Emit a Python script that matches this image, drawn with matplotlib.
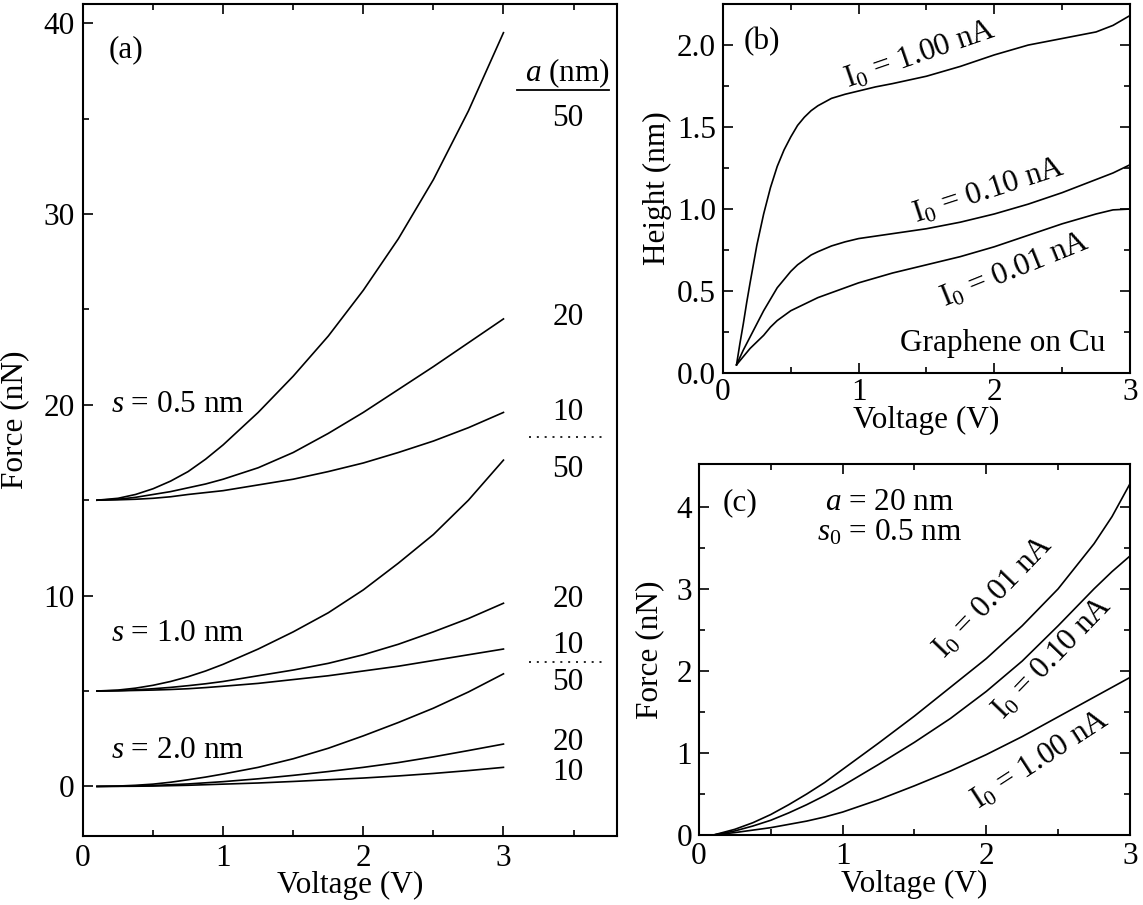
import numpy as np
import matplotlib
matplotlib.use("Agg")
import matplotlib.pyplot as plt

plt.rcParams['font.family'] = ['Liberation Serif', 'DejaVu Serif']
plt.rcParams['mathtext.fontset'] = 'custom'
plt.rcParams['mathtext.rm'] = 'Liberation Serif'
plt.rcParams['mathtext.it'] = 'Liberation Serif:italic'
plt.rcParams['font.size'] = 22.5

# ---- panel (a): force vs voltage for three gaps s and three radii a ----
volt_a = [0.1, 0.25, 0.375, 0.5, 0.625, 0.75, 0.875, 1.0, 1.25, 1.5, 1.75,
          2.0, 2.25, 2.5, 2.75, 3.0]
force_s05 = {
    50: [15.0, 15.1, 15.3, 15.6, 16.0, 16.5, 17.15, 17.9, 19.6, 21.5, 23.6,
         26.0, 28.7, 31.8, 35.4, 39.5],
    20: [15.0, 15.05, 15.15, 15.3, 15.45, 15.65, 15.85, 16.1, 16.7, 17.5, 18.5,
         19.6, 20.8, 22.0, 23.25, 24.5],
    10: [15.0, 15.02, 15.05, 15.1, 15.18, 15.3, 15.4, 15.5, 15.8, 16.1, 16.5,
         16.95, 17.5, 18.1, 18.8, 19.6],
}
force_s10 = {
    50: [5.0, 5.05, 5.15, 5.3, 5.5, 5.75, 6.05, 6.4, 7.2, 8.1, 9.1,
         10.3, 11.7, 13.2, 15.0, 17.1],
    20: [5.0, 5.02, 5.06, 5.12, 5.19, 5.28, 5.38, 5.5, 5.8, 6.1, 6.45,
         6.9, 7.45, 8.1, 8.8, 9.6],
    10: [5.0, 5.01, 5.03, 5.05, 5.08, 5.12, 5.18, 5.25, 5.4, 5.6, 5.8,
         6.05, 6.3, 6.6, 6.9, 7.2],
}
force_s20 = {
    50: [0.0, 0.02, 0.06, 0.12, 0.22, 0.35, 0.49, 0.65, 1.0, 1.45, 2.0,
         2.65, 3.35, 4.1, 4.95, 5.9],
    20: [0.0, 0.01, 0.03, 0.05, 0.09, 0.13, 0.19, 0.25, 0.4, 0.58, 0.78,
         1.0, 1.25, 1.55, 1.88, 2.22],
    10: [0.0, 0.005, 0.01, 0.02, 0.04, 0.06, 0.09, 0.12, 0.18, 0.26, 0.35,
         0.44, 0.55, 0.68, 0.83, 1.0],
}
gap_labels = [r'$s$ = 0.5 nm', r'$s$ = 1.0 nm', r'$s$ = 2.0 nm']
gap_label_y = [20.0, 8.0, 1.9]
radius_labels = ['50', '20', '10', '50', '20', '10', '50', '20', '10']
radius_label_y = [35.0, 24.6, 19.6, 16.6, 9.8, 7.4, 5.45, 2.3, 0.73]
separator_y = [18.3, 6.5]

# ---- panel (b): height vs voltage ----
volt_b = [0.1, 0.125, 0.15, 0.175, 0.2, 0.25, 0.3, 0.35, 0.4, 0.45, 0.5, 0.55,
          0.6, 0.65, 0.7, 0.8, 0.9, 1.0, 1.125, 1.25, 1.5, 1.75, 2.0, 2.25,
          2.5, 2.75, 2.875, 3.0]
height_100 = [0.05, 0.18, 0.3, 0.43, 0.55, 0.78, 0.97, 1.13, 1.26, 1.36, 1.44, 1.51,
              1.56, 1.60, 1.63, 1.675, 1.70, 1.72, 1.745, 1.765, 1.81, 1.87, 1.94, 2.0,
              2.04, 2.08, 2.12, 2.18]
height_010 = [0.05, 0.095, 0.14, 0.18, 0.22, 0.30, 0.38, 0.45, 0.52, 0.57, 0.62, 0.66,
              0.69, 0.72, 0.74, 0.775, 0.80, 0.82, 0.835, 0.85, 0.88, 0.92, 0.97, 1.03,
              1.10, 1.18, 1.22, 1.27]
height_001 = [0.05, 0.075, 0.10, 0.125, 0.15, 0.19, 0.23, 0.28, 0.32, 0.35, 0.38, 0.40,
              0.42, 0.44, 0.46, 0.49, 0.52, 0.55, 0.58, 0.61, 0.66, 0.71, 0.77, 0.84,
              0.91, 0.97, 0.995, 1.0]

# ---- panel (c): force vs voltage, a = 20 nm ----
volt_c = [0.1, 0.25, 0.375, 0.5, 0.625, 0.75, 0.875, 1.0, 1.25, 1.5, 1.75,
          2.0, 2.25, 2.5, 2.75, 2.875, 3.0]
forcec_001 = [0.0, 0.07, 0.15, 0.25, 0.37, 0.5, 0.64, 0.8, 1.12, 1.45, 1.8,
              2.15, 2.55, 3.0, 3.55, 3.88, 4.28]
forcec_010 = [0.0, 0.05, 0.11, 0.18, 0.27, 0.37, 0.48, 0.6, 0.86, 1.13, 1.42,
              1.75, 2.12, 2.55, 3.0, 3.21, 3.4]
forcec_100 = [0.0, 0.03, 0.06, 0.09, 0.13, 0.17, 0.22, 0.28, 0.43, 0.6, 0.78,
              0.98, 1.2, 1.44, 1.68, 1.8, 1.92]

LW = 1.2
fig = plt.figure(figsize=(11.43, 9.05), dpi=100)


def style_axes(ax, sides, xpad, ypad):
    for sp in ax.spines.values():
        sp.set_linewidth(1.5)
    ax.tick_params(which='both', direction='in', width=1.2, **sides)
    ax.tick_params(axis='x', pad=xpad)
    ax.tick_params(axis='y', pad=ypad)
    ax.tick_params(which='major', length=7)
    ax.tick_params(which='minor', length=4)


# panel (a)
ax = fig.add_axes([0.0726, 0.0762, 0.4672, 0.9193])
for group in (force_s05, force_s10, force_s20):
    for a in (50, 20, 10):
        ax.plot(volt_a, group[a], color='black', lw=LW)
ax.set_xlim(0, 3.81)
ax.set_ylim(-2.6, 41.0)
ax.set_xticks([0, 1, 2, 3])
ax.set_xticks([0.5, 1.5, 2.5, 3.5], minor=True)
ax.set_yticks([0, 10, 20, 30, 40])
ax.set_yticks([5, 15, 25, 35], minor=True)
style_axes(ax, dict(top=True, right=False), 6, 6)
for lab, y in zip(gap_labels, gap_label_y):
    ax.text(0.2, y, lab, ha='left', va='center')
for lab, y in zip(radius_labels, radius_label_y):
    ax.text(3.46, y, lab, ha='center', va='center')
for y in separator_y:
    ax.plot([3.18, 3.74], [y, y], color='black', lw=1.2, ls=(0, (1.2, 3.5)))
ax.text(3.46, 37.4, r'$a$ (nm)', ha='center', va='center')
ax.plot([3.1, 3.75], [36.5, 36.5], color='black', lw=1.3)
ax.text(0.31, 38.6, '(a)', ha='center', va='center')
ax.set_xlabel('Voltage (V)')
ax.set_ylabel('Force (nN)')
ax.xaxis.set_label_coords(0.5, -0.042)
ax.yaxis.set_label_coords(-0.10, 0.5)

# panel (b)
ax = fig.add_axes([0.6325, 0.5878, 0.3561, 0.4077])
for h in (height_100, height_010, height_001):
    ax.plot(volt_b, h, color='black', lw=LW)
ax.set_xlim(0, 3)
ax.set_ylim(0, 2.25)
ax.set_xticks([0, 1, 2, 3])
ax.set_xticks([0.5, 1.5, 2.5], minor=True)
ax.set_yticks([0, 0.5, 1.0, 1.5, 2.0])
ax.set_yticks([0.25, 0.75, 1.25, 1.75], minor=True)
ax.set_yticklabels(['0.0', '0.5', '1.0', '1.5', '2.0'])
style_axes(ax, dict(top=True, right=True), 3.5, 5)
ax.text(0.29, 2.02, '(b)', ha='center', va='center')
ax.text(1.45, 1.94, r'I$_0$ = 1.00 nA', rotation=19, ha='center', va='center',
        rotation_mode='anchor')
ax.text(1.96, 1.11, r'I$_0$ = 0.10 nA', rotation=18, ha='center', va='center',
        rotation_mode='anchor')
ax.text(2.15, 0.63, r'I$_0$ = 0.01 nA', rotation=22, ha='center', va='center',
        rotation_mode='anchor')
ax.text(2.06, 0.18, 'Graphene on Cu', ha='center', va='center')
ax.set_xlabel('Voltage (V)')
ax.set_ylabel('Height (nm)')
ax.xaxis.set_label_coords(0.5, -0.09)
ax.yaxis.set_label_coords(-0.125, 0.5)

# panel (c)
ax = fig.add_axes([0.6115, 0.0773, 0.3771, 0.4099])
for f in (forcec_001, forcec_010, forcec_100):
    ax.plot(volt_c, f, color='black', lw=LW)
ax.set_xlim(0, 3)
ax.set_ylim(0, 4.52)
ax.set_xticks([0, 1, 2, 3])
ax.set_xticks([0.5, 1.5, 2.5], minor=True)
ax.set_yticks([0, 1, 2, 3, 4])
ax.set_yticks([0.5, 1.5, 2.5, 3.5], minor=True)
style_axes(ax, dict(top=True, right=True), 5, 5)
ax.text(0.285, 4.05, '(c)', ha='center', va='center')
ax.text(1.33, 4.05, r'$a$ = 20 nm', ha='center', va='center')
ax.text(1.33, 3.68, r'$s_0$ = 0.5 nm', ha='center', va='center')
ax.text(2.05, 2.9, r'I$_0$ = 0.01 nA', rotation=46, ha='center', va='center',
        rotation_mode='anchor')
ax.text(2.46, 2.15, r'I$_0$ = 0.10 nA', rotation=46, ha='center', va='center',
        rotation_mode='anchor')
ax.text(2.38, 0.92, r'I$_0$ = 1.00 nA', rotation=33, ha='center', va='center',
        rotation_mode='anchor')
ax.set_xlabel('Voltage (V)')
ax.set_ylabel('Force (nN)')
ax.xaxis.set_label_coords(0.5, -0.095)
ax.yaxis.set_label_coords(-0.08, 0.5)

fig.savefig('out.png', dpi=100)
